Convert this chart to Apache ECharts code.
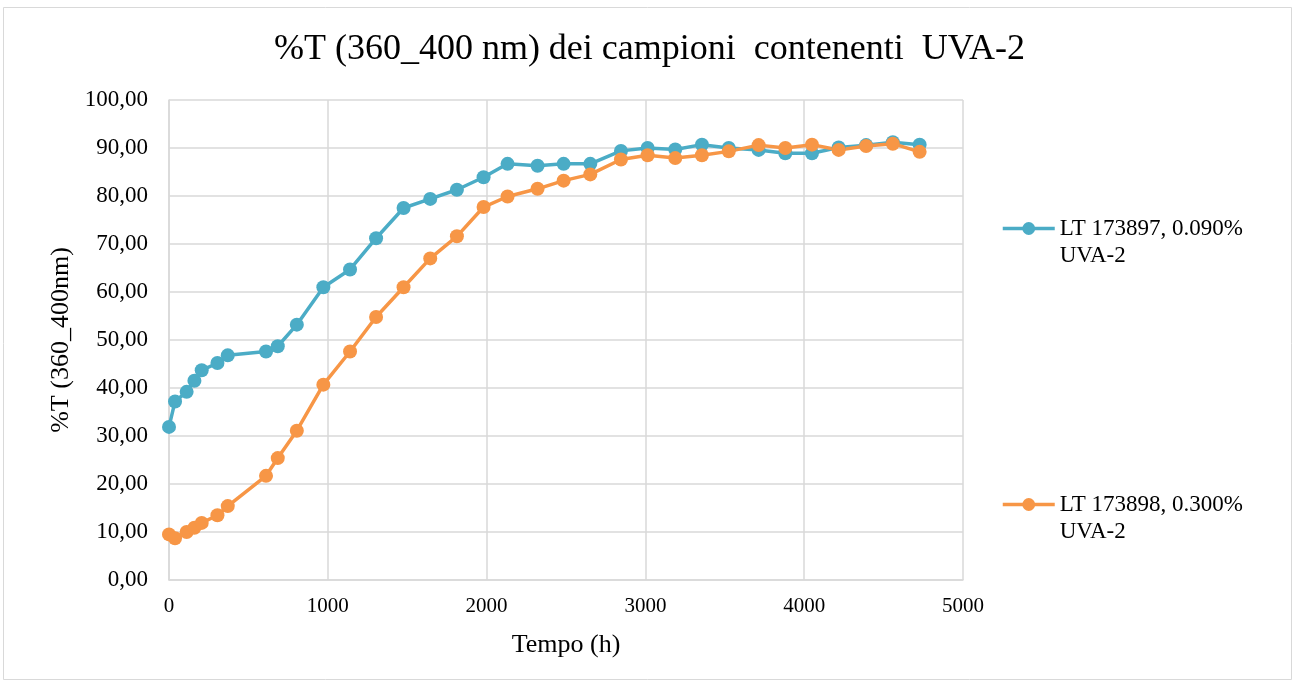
<!DOCTYPE html>
<html><head><meta charset="utf-8">
<script src="https://cdn.jsdelivr.net/npm/echarts@6/dist/echarts.min.js"></script>
<style>html,body{margin:0;padding:0;background:#fff}#c{width:1299px;height:686px}</style>
</head><body><div id="c"></div>
<script>
const tempo = [0,38,111,160,206,305,370,611,685,805,972,1140,1304,1477,1645,1813,1981,2132,2321,2485,2653,2846,3014,3188,3356,3525,3713,3881,4049,4217,4390,4558,4727];
const lt173897 = [31.9,37.2,39.2,41.5,43.7,45.2,46.8,47.6,48.7,53.2,61.0,64.7,71.2,77.5,79.4,81.3,83.9,86.7,86.3,86.7,86.7,89.4,90.0,89.7,90.7,90.0,89.6,88.9,88.9,90.1,90.6,91.2,90.7];
const lt173898 = [9.5,8.7,10.0,10.9,11.9,13.5,15.4,21.7,25.4,31.1,40.7,47.6,54.8,61.0,67.0,71.6,77.7,79.9,81.5,83.2,84.5,87.6,88.5,87.9,88.5,89.3,90.6,90.0,90.7,89.6,90.4,90.9,89.2];
const seriesNames = ['LT 173897, 0.090% UVA-2','LT 173898, 0.300% UVA-2'];
const legendLabels = ['LT 173897, 0.090%\nUVA-2','LT 173898, 0.300%\nUVA-2'];
const title = '%T (360_400 nm) dei campioni  contenenti  UVA-2';
const xName = 'Tempo (h)';
const yName = '%T (360_400nm)';
const colors = ['#4BACC6','#F79646'];

const font = '"Liberation Serif", "DejaVu Serif", serif';
const chart = echarts.init(document.getElementById('c'));
const mk = (a)=>tempo.map((t,i)=>[t,a[i]]);
chart.setOption({
  animation:false,
  backgroundColor:'#fff',
  graphic:[{type:'rect',shape:{x:3.5,y:7.5,width:1288,height:672},style:{fill:'none',stroke:'#d9d9d9',lineWidth:1}}],
  title:{text:title,left:'center',top:27,textStyle:{fontFamily:font,fontWeight:'normal',fontSize:36,color:'#000'}},
  grid:{left:169,right:336,top:100,bottom:106,containLabel:false},
  xAxis:{type:'value',min:0,max:5000,interval:1000,
    name:xName,nameLocation:'middle',nameGap:52,nameTextStyle:{fontFamily:font,fontSize:26,color:'#000'},
    axisLine:{show:true,lineStyle:{color:'#d9d9d9',width:1.5}},axisTick:{show:false},
    axisLabel:{fontFamily:font,fontSize:21,color:'#000',margin:16,formatter:v=>String(v)},
    splitLine:{show:true,lineStyle:{color:'#d9d9d9',width:1.5}}},
  yAxis:{type:'value',min:0,max:100,interval:10,
    name:yName,nameLocation:'middle',nameGap:95,nameTextStyle:{fontFamily:font,fontSize:26,color:'#000'},
    axisLine:{show:true,lineStyle:{color:'#d9d9d9',width:1.5}},axisTick:{show:false},
    axisLabel:{fontFamily:font,fontSize:23,color:'#000',margin:21,formatter:v=>v.toFixed(2).replace('.',',')},
    splitLine:{show:true,lineStyle:{color:'#d9d9d9',width:1.5}}},
  legend:[0,1].map(i=>({data:[seriesNames[i]],orient:'vertical',left:996,top:i===0?183:459,
    itemWidth:52,itemHeight:16,itemGap:6,
    lineStyle:{width:3.5},
    formatter:n=>'\n'+legendLabels[seriesNames.indexOf(n)],
    textStyle:{fontFamily:font,fontSize:23,color:'#000',lineHeight:27}})),
  series:[lt173897,lt173898].map((a,i)=>({name:seriesNames[i],type:'line',data:mk(a),
    symbol:'circle',symbolSize:14,color:colors[i],lineStyle:{width:3.5,color:colors[i]},
    itemStyle:{color:colors[i]}}))
});
</script></body></html>
